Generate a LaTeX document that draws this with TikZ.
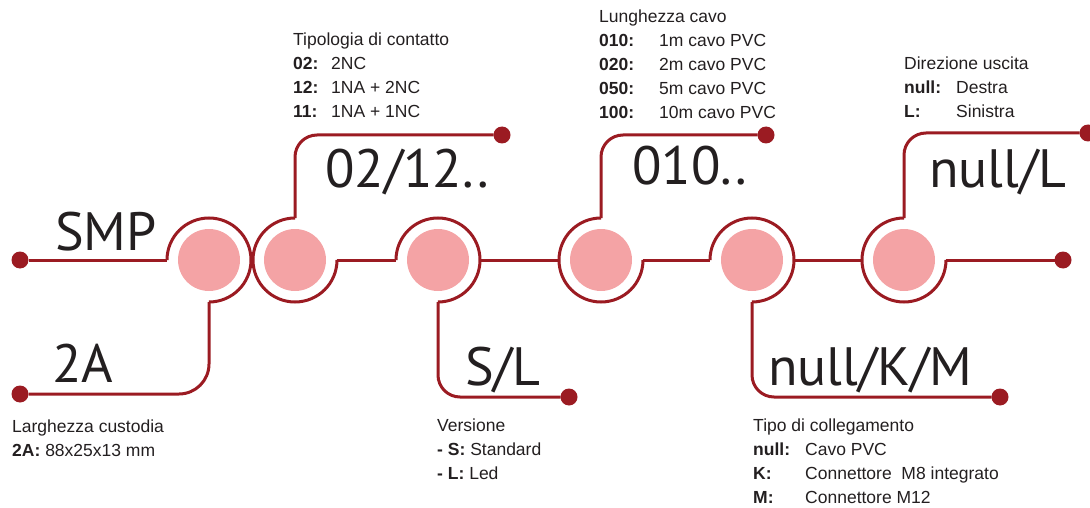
\documentclass[tikz,border=0pt]{standalone}
\usepackage{fontspec}
\setmainfont{Liberation Sans}
\newfontfamily\codefont{PT Sans}
\definecolor{wirered}{HTML}{9B1B22}
\definecolor{beadpink}{HTML}{F4A3A5}
\definecolor{inkgrey}{HTML}{231F20}
\newcommand\kw[2]{\makebox[#1][l]{\textbf{#2}}}
\begin{document}
\begin{tikzpicture}[
    x=1pt, y=1pt,
    wire/.style={draw=wirered, line width=3pt, rounded corners=22pt},
    ring/.style={circle, minimum size=84pt, inner sep=0pt, outer sep=0pt},
    bead/.style={circle, fill=beadpink, minimum size=62pt, inner sep=0pt},
    tip/.style={circle, fill=wirered, minimum size=17pt, inner sep=0pt, outer sep=0pt},
    code/.style={font=\codefont\fontsize{54}{58}\selectfont, text=inkgrey, inner sep=0pt, anchor=base west},
    legend/.style={font=\fontsize{17.5}{24}\selectfont, text=inkgrey, inner sep=0pt, anchor=base west, align=left}
]
\useasboundingbox (0,0) rectangle (1090,-508);

% Rings along the main line (y = -260)
\node[ring] (r1) at (209,-260) {};
\node[ring] (r2) at (295,-260) {};
\node[ring] (r3) at (438,-260) {};
\node[ring] (r4) at (601,-260) {};
\node[ring] (r5) at (752,-260) {};
\node[ring] (r6) at (904,-260) {};
\foreach \i in {1,...,6} \node[bead] (b\i) at (r\i) {};

% End dots
\node[tip] (dSMP)  at (20,-260)  {};
\node[tip] (d2A)   at (20,-394)  {};
\node[tip] (d0212) at (502,-135) {};
\node[tip] (dSL)   at (569,-397) {};
\node[tip] (d010)  at (766,-135) {};
\node[tip] (dKM)   at (1000,-397) {};
\node[tip] (dL)    at (1088,-133) {};
\node[tip] (dR)    at (1063,-260) {};

% Ring outlines (one quarter left open where the branch leaves)
\draw[wire] (r1.south) arc[start angle=-90, end angle=180, radius=42pt];
\draw[wire] (r2.north) arc[start angle=90, end angle=360, radius=42pt];
\draw[wire] (r3.south) arc[start angle=-90, end angle=180, radius=42pt];
\draw[wire] (r4.north) arc[start angle=90, end angle=360, radius=42pt];
\draw[wire] (r5.south) arc[start angle=-90, end angle=180, radius=42pt];
\draw[wire] (r6.north) arc[start angle=90, end angle=360, radius=42pt];

% Main line
\draw[wire] (dSMP) -- (r1.west);
\draw[wire] (r2.east) -- (r3.west);
\draw[wire] (r3.east) -- (r4.west);
\draw[wire] (r4.east) -- (r5.west);
\draw[wire] (r5.east) -- (r6.west);
\draw[wire] (r6.east) -- (dR);

% Branches
\draw[wire, rounded corners=30pt] (r1.south) |- (d2A);
\draw[wire] (r2.north) |- (d0212);
\draw[wire] (r3.south) |- (dSL);
\draw[wire] (r4.north) |- (d010);
\draw[wire] (r5.south) |- (dKM);
\draw[wire] (r6.north) |- (dL);

% Code fields
\node[code] (cSMP)  at (55,-250)  {SMP};
\node[code] (c2A)   at (52,-382)  {2A};
\node[code] (c0212) at (325,-187) {02/12..};
\node[code] (cSL)   at (465,-385) {S/L};
\node[code] (c010)  at (632,-185) {010..};
\node[code] (cKM)   at (768,-385) {null/K/M};
\node[code] (cL)    at (929,-188) {null/L};

% Legends (anchored at the baseline of their last line)
\node[legend] (lgWidth) at (12,-456) {Larghezza custodia\\\textbf{2A:} 88x25x13 mm};
\node[legend] (lgContact) at (293,-118) {Tipologia di contatto\\\kw{38pt}{02:}2NC\\\kw{38pt}{12:}1NA + 2NC\\\kw{38pt}{11:}1NA + 1NC};
\node[legend] (lgCable) at (599,-119) {Lunghezza cavo\\\kw{60pt}{010:}1m cavo PVC\\\kw{60pt}{020:}2m cavo PVC\\\kw{60pt}{050:}5m cavo PVC\\\kw{60pt}{100:}10m cavo PVC};
\node[legend] (lgExit) at (904,-118) {Direzione uscita\\\kw{52pt}{null:}Destra\\\kw{52pt}{L:}Sinistra};
\node[legend] (lgVersion) at (437,-479) {Versione\\\textbf{- S:} Standard\\\textbf{- L:} Led};
\node[legend] (lgLink) at (753,-503) {Tipo di collegamento\\\kw{52pt}{null:}Cavo PVC\\\kw{52pt}{K:}Connettore~ M8 integrato\\\kw{52pt}{M:}Connettore M12};

\end{tikzpicture}
\end{document}
